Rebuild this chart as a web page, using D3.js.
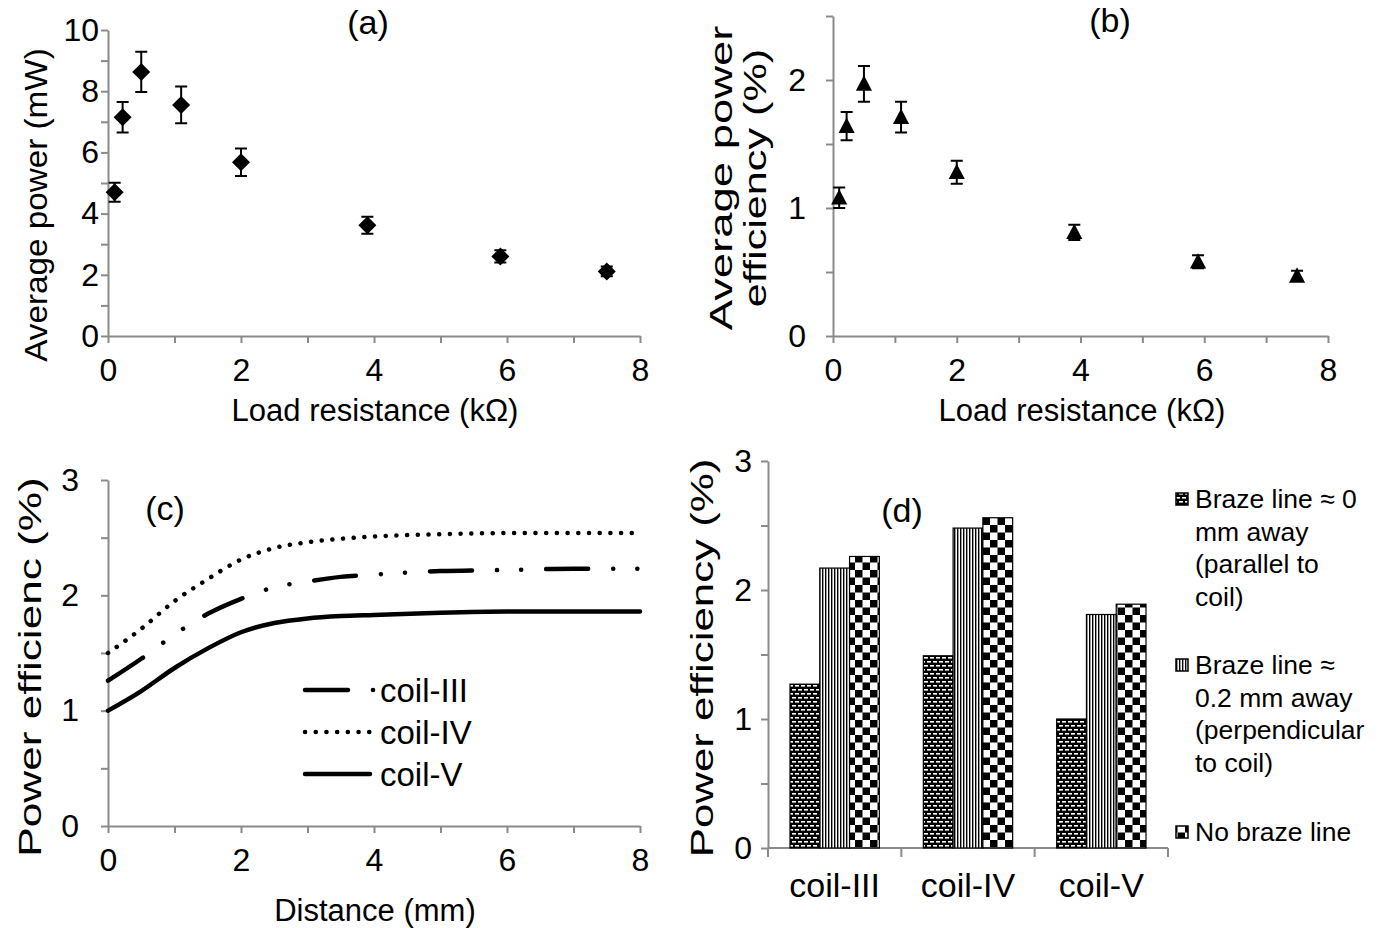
<!DOCTYPE html>
<html>
<head>
<meta charset="utf-8">
<script src="https://cdn.jsdelivr.net/npm/d3@7"></script>
<style>
  body { margin: 0; background: #fff; }
  svg { display: block; font-family: "Liberation Sans", Arial, sans-serif; }
</style>
</head>
<body>
<div id="chart"></div>
<script>
// CONSTANTS
const width = 1381;
const height = 928;
const axisGrey = "#8a8a8a";
const tickFont = 32;

// panel (a) + (b): load resistance sweep
const loadRes = [0.1, 0.22, 0.5, 1.1, 2, 3.9, 5.9, 7.5];
const avgPower = [4.7, 7.15, 8.63, 7.55, 5.68, 3.62, 2.6, 2.11];
const powerErr = [0.31, 0.5, 0.66, 0.6, 0.45, 0.28, 0.2, 0.16];
const avgEff = [1.08, 1.64, 1.97, 1.71, 1.28, 0.81, 0.58, 0.47];
const effErr = [0.08, 0.11, 0.14, 0.12, 0.09, 0.06, 0.05, 0.04];

// panel (c): efficiency vs distance
const distance = [0, 0.5, 1, 1.5, 2, 2.5, 3, 3.5, 4, 5, 6, 7, 8];
const coilIII = [1.26, 1.45, 1.66, 1.84, 1.97, 2.07, 2.12, 2.16, 2.18, 2.21, 2.22, 2.23, 2.23];
const coilIV = [1.5, 1.71, 1.95, 2.14, 2.31, 2.41, 2.46, 2.49, 2.51, 2.53, 2.54, 2.54, 2.54];
const coilV = [1.0, 1.17, 1.37, 1.54, 1.68, 1.76, 1.8, 1.82, 1.83, 1.85, 1.86, 1.86, 1.86];
const lineNames = ["coil-III", "coil-IV", "coil-V"];

// panel (d): bars
const coils = ["coil-III", "coil-IV", "coil-V"];
const braze0 = [1.27, 1.49, 1.0];
const braze02 = [2.17, 2.48, 1.81];
const noBraze = [2.26, 2.56, 1.89];
const barSeries = ["b0", "b02", "none"];
const barLegend = [
  ["Braze line \u2248 0", "mm away", "(parallel to", "coil)"],
  ["Braze line \u2248", "0.2 mm away", "(perpendicular", "to coil)"],
  ["No braze line"],
];

const svg = d3
  .select("#chart")
  .append("svg")
  .attr("width", width)
  .attr("height", height);

// patterns for bars
const defs = svg.append("defs");
const p1 = defs.append("pattern").attr("id", "pat-b0").attr("patternUnits", "userSpaceOnUse")
  .attr("width", 6).attr("height", 8);
p1.append("rect").attr("width", 6).attr("height", 8).attr("fill", "#000");
p1.append("rect").attr("x", 0).attr("y", 1).attr("width", 4).attr("height", 1.6).attr("fill", "#fff");
p1.append("rect").attr("x", 3).attr("y", 5).attr("width", 4).attr("height", 1.6).attr("fill", "#fff");
p1.append("rect").attr("x", -3).attr("y", 5).attr("width", 4).attr("height", 1.6).attr("fill", "#fff");

const p2 = defs.append("pattern").attr("id", "pat-b02").attr("patternUnits", "userSpaceOnUse")
  .attr("width", 3).attr("height", 3);
p2.append("rect").attr("width", 3).attr("height", 3).attr("fill", "#fff");
p2.append("rect").attr("width", 1.4).attr("height", 3).attr("fill", "#000");

const p3 = defs.append("pattern").attr("id", "pat-none").attr("patternUnits", "userSpaceOnUse")
  .attr("width", 15).attr("height", 15);
p3.append("rect").attr("width", 15).attr("height", 15).attr("fill", "#fff");
p3.append("rect").attr("width", 7.5).attr("height", 7.5).attr("fill", "#000");
p3.append("rect").attr("x", 7.5).attr("y", 7.5).attr("width", 7.5).attr("height", 7.5).attr("fill", "#000");

const styleAxis = (g) => {
  g.select(".domain").attr("stroke", axisGrey).attr("stroke-width", 2);
  g.selectAll(".tick line").attr("stroke", axisGrey).attr("stroke-width", 2);
  g.selectAll(".tick text").attr("fill", "#000").style("font-size", tickFont + "px")
    .style("font-family", '"Liberation Sans", Arial, sans-serif');
};

// rotated labels in the source are stretched along their length
const addText = (x, y, txt, size, rotate, stretch) => {
  const t = svg
    .append("text")
    .attr("text-anchor", "middle")
    .attr("dominant-baseline", "central")
    .style("font-size", size + "px")
    .text(txt);
  if (rotate) t.attr("transform", `translate(${x},${y}) rotate(-90) scale(${stretch || 1},1)`);
  else t.attr("x", x).attr("y", y);
  return t;
};

const stepTicks = (a, b, s) => d3.range(a, b + s / 2, s).map((v) => +v.toFixed(2));

// generic xy axes
const drawAxes = (x, y, xStep, xLabelEvery, yStep, yLabelEvery, yPad, xPad) => {
  const [y0] = y.range();
  const [x0] = x.range();
  const xTicks = stepTicks(x.domain()[0], x.domain()[1], xStep);
  const yTicks = stepTicks(y.domain()[0], y.domain()[1], yStep);
  svg.append("g")
    .attr("transform", `translate(0,${y0})`)
    .call(d3.axisBottom(x).tickValues(xTicks).tickSize(7).tickSizeOuter(0).tickPadding(xPad)
      .tickFormat((d) => (Math.abs(d / xLabelEvery - Math.round(d / xLabelEvery)) < 1e-6 ? d : "")))
    .call(styleAxis);
  svg.append("g")
    .attr("transform", `translate(${x0},0)`)
    .call(d3.axisLeft(y).tickValues(yTicks).tickSize(7).tickSizeOuter(0).tickPadding(yPad)
      .tickFormat((d) => (Math.abs(d / yLabelEvery - Math.round(d / yLabelEvery)) < 1e-6 ? d : "")))
    .call(styleAxis);
};

const diamond = (r) => `M0,${-r}L${r},0L0,${r}L${-r},0Z`;
const triangle = (r) => `M0,${-r}L${r * 0.95},${r * 0.8}L${-r * 0.95},${r * 0.8}Z`;

const drawScatter = (x, y, xs, ys, errs, shape) => {
  const g = svg.append("g");
  const pts = xs.map((d, i) => ({ x: d, y: ys[i], e: errs[i] }));
  g.selectAll(".err").data(pts).enter().append("path")
    .attr("d", (d) => {
      const cx = x(d.x), t = y(d.y + d.e), b = y(d.y - d.e);
      return `M${cx},${t}V${b}M${cx - 6},${t}H${cx + 6}M${cx - 6},${b}H${cx + 6}`;
    })
    .attr("stroke", "#000").attr("stroke-width", 2).attr("fill", "none");
  g.selectAll(".pt").data(pts).enter().append("path")
    .attr("transform", (d) => `translate(${x(d.x)},${y(d.y)})`)
    .attr("d", shape)
    .attr("fill", "#000");
};

// ---------- panel (a)
const xa = d3.scaleLinear().domain([0, 8]).range([108, 640]);
const ya = d3.scaleLinear().domain([0, 10]).range([336, 30]);
drawAxes(xa, ya, 1, 2, 1, 2, 2, 15);
drawScatter(xa, ya, loadRes, avgPower, powerErr, diamond(9));
addText(368, 22, "(a)", 34);
addText(375, 410, "Load resistance (k\u03A9)", 31);
addText(36, 205, "Average power (mW)", 32, true, 1.04);

// ---------- panel (b)
const xb = d3.scaleLinear().domain([0, 8]).range([833, 1328]);
const yb = d3.scaleLinear().domain([0, 2.5]).range([336, 16]);
drawAxes(xb, yb, 1, 2, 0.5, 1, 20, 15);
drawScatter(xb, yb, loadRes, avgEff, effErr, triangle(8.5));
addText(1110, 20, "(b)", 34);
addText(1082, 410, "Load resistance (k\u03A9)", 31);
addText(721, 178, "Average power", 32, true, 1.42);
addText(755, 178, "efficiency (%)", 32, true, 1.35);

// ---------- panel (c)
const xc = d3.scaleLinear().domain([0, 8]).range([108, 640]);
const yc = d3.scaleLinear().domain([0, 3]).range([826, 480]);
drawAxes(xc, yc, 1, 2, 0.5, 1, 22, 15);
const lineStyles = [
  { data: coilIII, dash: "42,25,0.1,24,0.1,25" },
  { data: coilIV, dash: "0.1,10.6" },
  { data: coilV, dash: null },
];
const lineGen = d3.line().x((d) => xc(d[0])).y((d) => yc(d[1])).curve(d3.curveMonotoneX);
lineStyles.forEach((s) => {
  svg.append("path")
    .datum(distance.map((d, i) => [d, s.data[i]]))
    .attr("d", lineGen)
    .attr("fill", "none")
    .attr("stroke", "#000")
    .attr("stroke-width", 4.5)
    .attr("stroke-linecap", "round")
    .attr("stroke-dasharray", s.dash);
});
addText(165, 508, "(c)", 34);
addText(375, 910, "Distance (mm)", 31);
addText(30, 667, "Power efficienc (%)", 32, true, 1.38);
// legend (c)
const legC = svg.append("g");
lineNames.forEach((n, i) => {
  const yy = 690 + i * 42;
  legC.append("line")
    .attr("x1", 305).attr("x2", i === 0 ? 348 : 370).attr("y1", yy).attr("y2", yy)
    .attr("stroke", "#000").attr("stroke-width", 4.5).attr("stroke-linecap", "round")
    .attr("stroke-dasharray", i === 0 ? null : lineStyles[i].dash);
  if (i === 0) {
    legC.append("circle").attr("cx", 373).attr("cy", yy).attr("r", 2.3).attr("fill", "#000");
  }
  legC.append("text")
    .attr("x", 380).attr("y", yy)
    .attr("dominant-baseline", "central")
    .style("font-size", "33px")
    .text(n);
});

// ---------- panel (d)
const yd = d3.scaleLinear().domain([0, 3]).range([848, 461]);
const xd = d3.scaleBand().domain(coils).range([768, 1168]);
const xd1 = d3.scaleBand().domain(barSeries).range([22, xd.bandwidth() - 22]);
const barVals = { b0: braze0, b02: braze02, none: noBraze };

svg.append("g")
  .attr("transform", `translate(768,0)`)
  .call(d3.axisLeft(yd).tickValues(stepTicks(0, 3, 0.5)).tickSize(7).tickSizeOuter(0).tickPadding(9)
    .tickFormat((d) => (Number.isInteger(d) ? d : "")))
  .call(styleAxis);
// category axis
const catAxis = svg.append("g");
catAxis.append("line")
  .attr("x1", xd.range()[0]).attr("x2", xd.range()[1]).attr("y1", yd(0)).attr("y2", yd(0))
  .attr("stroke", axisGrey).attr("stroke-width", 2);
[...coils.map((c) => xd(c)), xd.range()[1]].forEach((px) => {
  catAxis.append("line")
    .attr("x1", px).attr("x2", px).attr("y1", yd(0)).attr("y2", yd(0) + 9)
    .attr("stroke", axisGrey).attr("stroke-width", 2);
});
coils.forEach((c) => {
  catAxis.append("text")
    .attr("x", xd(c) + xd.bandwidth() / 2).attr("y", 885)
    .attr("text-anchor", "middle").attr("dominant-baseline", "central")
    .style("font-size", "34px")
    .text(c);
});

const barData = [];
coils.forEach((c, i) => barSeries.forEach((s) => barData.push({ c, s, v: barVals[s][i] })));
svg.append("g").selectAll("rect").data(barData).enter().append("rect")
  .attr("x", (d) => xd(d.c) + xd1(d.s))
  .attr("y", (d) => yd(d.v))
  .attr("width", xd1.bandwidth())
  .attr("height", (d) => yd(0) - yd(d.v))
  .attr("fill", (d) => `url(#pat-${d.s})`)
  .attr("stroke", "#000")
  .attr("stroke-width", 1.2);

addText(902, 510, "(d)", 34);
addText(702, 658, "Power efficiency (%)", 32, true, 1.37);

// legend (d)
const legD = svg.append("g");
const legTops = [499, 665, 832];
barLegend.forEach((lines, i) => {
  legD.append("rect")
    .attr("x", 1176).attr("y", legTops[i] - 6).attr("width", 12).attr("height", 12)
    .attr("fill", `url(#pat-${barSeries[i]})`).attr("stroke", "#000").attr("stroke-width", 1.5);
  lines.forEach((ln, j) => {
    legD.append("text")
      .attr("x", 1195).attr("y", legTops[i] + j * 32.5)
      .attr("dominant-baseline", "central")
      .style("font-size", "26.5px")
      .text(ln);
  });
});
</script>
</body>
</html>
